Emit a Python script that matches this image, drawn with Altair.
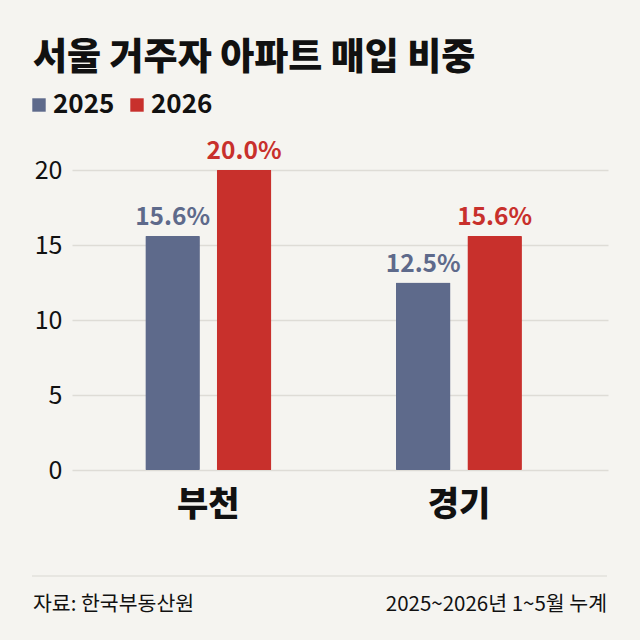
import altair as alt
import pandas as pd

regions = ["부천", "경기"]
years = ["2025", "2026"]
v2025 = [15.6, 12.5]
v2026 = [20.0, 15.6]
title_text = "서울 거주자 아파트 매입 비중"
source_text = "자료: 한국부동산원"
period_text = "2025~2026년 1~5월 누계"
bar_colors = ["#5e6a8b", "#c8302c"]

rows = []
for i, r in enumerate(regions):
    rows.append(dict(region=r, year="2025", value=v2025[i], label=f"{v2025[i]:.1f}%"))
    rows.append(dict(region=r, year="2026", value=v2026[i], label=f"{v2026[i]:.1f}%"))
df = pd.DataFrame(rows)

FONT = "Noto Sans CJK KR"
W, H = 536, 300

x = alt.X("region:N", sort=regions,
          scale=alt.Scale(paddingInner=0.497, paddingOuter=0.318, align=0.46),
          axis=alt.Axis(title=None, labelAngle=0, labelFontSize=34, labelFontWeight=900,
                        labelColor="#111111", labelPadding=18, domain=False, ticks=False,
                        labelFont=FONT, grid=False))
xo = alt.XOffset("year:N", sort=years, scale=alt.Scale(paddingInner=0.236, paddingOuter=0))
y = alt.Y("value:Q", scale=alt.Scale(domain=[0, 20]),
          axis=alt.Axis(values=[0, 5, 10, 15, 20], title=None, labelFontSize=25,
                        labelColor="#111111", labelPadding=10, domain=False, ticks=False,
                        gridColor="#dedcd6", gridWidth=1.5, labelFont=FONT))
color = alt.Color("year:N", sort=years,
                  scale=alt.Scale(domain=years, range=bar_colors),
                  legend=alt.Legend(title=None, orient="none", legendX=-46, legendY=-78,
                                    direction="horizontal", symbolType="square", symbolSize=180,
                                    labelFontSize=26, labelFontWeight="bold", labelFont=FONT,
                                    labelColor="#111111", symbolStrokeWidth=0, padding=0,
                                    columnPadding=9, labelOffset=1))

bars = alt.Chart(df).mark_bar(cornerRadius=1).encode(x=x, xOffset=xo, y=y, color=color)
labels = alt.Chart(df).mark_text(baseline="bottom", dy=-6, fontSize=24.5, fontWeight="bold",
                                 font=FONT).encode(x=x, xOffset=xo, y=y, text="label:N", color=color)

title = alt.Chart(pd.DataFrame({"t": [title_text]})).mark_text(
    align="left", baseline="alphabetic", fontSize=37, fontWeight=900, font=FONT, color="#111111"
).encode(x=alt.value(-39), y=alt.value(-100), text="t:N")

rule = alt.Chart(pd.DataFrame({"a": [0]})).mark_rule(color="#d9d7d1", strokeWidth=1.2).encode(
    x=alt.value(-40), x2=alt.value(W - 1), y=alt.value(406))

src = alt.Chart(pd.DataFrame({"t": [source_text]})).mark_text(
    align="left", baseline="alphabetic", fontSize=20.5, font=FONT, color="#111111"
).encode(x=alt.value(-39), y=alt.value(441), text="t:N")

per = alt.Chart(pd.DataFrame({"t": [period_text]})).mark_text(
    align="right", baseline="alphabetic", fontSize=20.5, font=FONT, color="#111111"
).encode(x=alt.value(W - 1), y=alt.value(441), text="t:N")

chart = alt.layer(bars, labels, title, rule, src, per).properties(
    width=W, height=H, background="#f5f4f0",
    autosize=alt.AutoSizeParams(type="none"),
    padding={"left": 72, "top": 170, "right": 32, "bottom": 170},
).configure(font=FONT).configure_view(strokeWidth=0, stroke="transparent")

chart.save("out.html", embed_options={"renderer": "svg", "actions": False})
